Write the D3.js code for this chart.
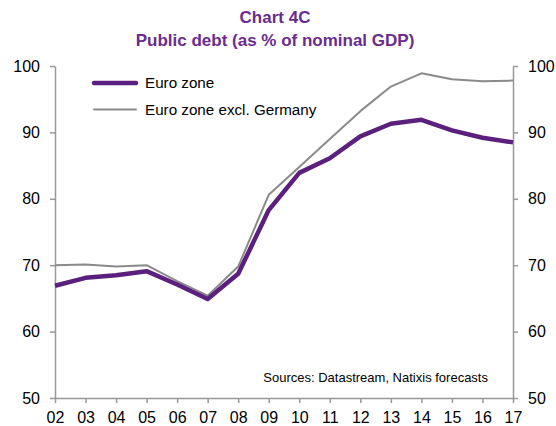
<!DOCTYPE html>
<html>
<head>
<meta charset="utf-8">
<script src="https://cdn.jsdelivr.net/npm/d3@7"></script>
<style>
  body { margin: 0; background: #fff; }
  svg { font-family: "Liberation Sans", Arial, sans-serif; }
</style>
</head>
<body>
<div id="chart"></div>
<script>
const years = ["02","03","04","05","06","07","08","09","10","11","12","13","14","15","16","17"];
const euroZone = [66.9, 68.1, 68.5, 69.1, 67.1, 64.9, 68.7, 78.3, 83.9, 86.1, 89.4, 91.3, 91.9, 90.3, 89.2, 88.5];
const euroExGermany = [70.0, 70.1, 69.8, 70.0, 67.6, 65.4, 69.8, 80.6, 84.8, 89.0, 93.2, 96.9, 98.9, 98.0, 97.7, 97.8];
const yTicks = [50, 60, 70, 80, 90, 100];

const width = 556, height = 426;
const margin = { top: 66, right: 43, bottom: 28, left: 55 };

const svg = d3.select("#chart").append("svg")
  .attr("width", width)
  .attr("height", height);

const x = d3.scalePoint().domain(years).range([margin.left, width - margin.right]);
const y = d3.scaleLinear().domain([50, 100]).range([height - margin.bottom, margin.top]);

const purple = "#5b1f7d";
const grey = "#8a8a8a";
const axisCol = "#999";

// title
svg.append("text").attr("x", 275).attr("y", 23).attr("text-anchor", "middle")
  .attr("font-size", 17).attr("font-weight", "bold").attr("fill", "#6a2c8f").text("Chart 4C");
svg.append("text").attr("x", 275).attr("y", 46).attr("text-anchor", "middle")
  .attr("font-size", 17).attr("font-weight", "bold").attr("fill", "#6a2c8f").text("Public debt (as % of nominal GDP)");

// axes
function styleAxis(g) {
  g.attr("font-family", null);
  g.select(".domain").attr("stroke", axisCol).attr("stroke-width", 1.5);
  g.selectAll(".tick line").attr("stroke", axisCol).attr("stroke-width", 1.5);
  g.selectAll(".tick text").attr("fill", "#000").attr("font-size", 16);
}

svg.append("g")
  .attr("transform", `translate(${margin.left},0)`)
  .call(d3.axisLeft(y).tickValues(yTicks).tickSize(5).tickPadding(10).tickSizeOuter(0))
  .call(styleAxis);

svg.append("g")
  .attr("transform", `translate(${width - margin.right},0)`)
  .call(d3.axisRight(y).tickValues(yTicks).tickSize(5).tickPadding(10).tickSizeOuter(0))
  .call(styleAxis);

svg.append("g")
  .attr("transform", `translate(0,${height - margin.bottom})`)
  .call(d3.axisBottom(x).tickSize(5).tickPadding(9).tickSizeOuter(0))
  .call(styleAxis);

// lines
const line = d3.line().x((d, i) => x(years[i])).y(d => y(d));

svg.append("path").datum(euroExGermany)
  .attr("fill", "none").attr("stroke", grey).attr("stroke-width", 2)
  .attr("stroke-linejoin", "round").attr("d", line);

svg.append("path").datum(euroZone)
  .attr("fill", "none").attr("stroke", purple).attr("stroke-width", 4.5)
  .attr("stroke-linejoin", "round").attr("d", line);

// legend
const legend = [
  { label: "Euro zone", color: purple, w: 4.5, y: 83 },
  { label: "Euro zone excl. Germany", color: grey, w: 2, y: 109.5 }
];
legend.forEach(l => {
  svg.append("line").attr("x1", 94).attr("x2", 136).attr("y1", l.y).attr("y2", l.y)
    .attr("stroke", l.color).attr("stroke-width", l.w).attr("stroke-linecap", "round");
  svg.append("text").attr("x", 145).attr("y", l.y + 5.3).attr("font-size", 15.2)
    .attr("fill", "#000").text(l.label);
});

// source
svg.append("text").attr("x", 488).attr("y", 382).attr("text-anchor", "end")
  .attr("font-size", 13).attr("fill", "#000").text("Sources: Datastream, Natixis forecasts");
</script>
</body>
</html>
